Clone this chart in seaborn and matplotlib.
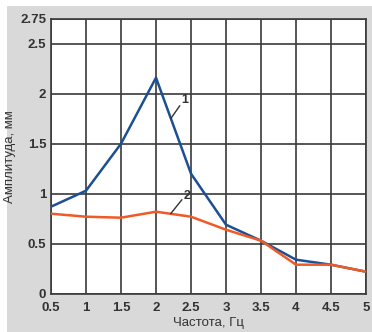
import matplotlib
matplotlib.use("Agg")
import matplotlib.pyplot as plt
import seaborn as sns
import pandas as pd
from matplotlib.patches import Rectangle

freq = [0.5, 1.0, 1.5, 2.0, 2.5, 3.0, 3.5, 4.0, 4.5, 5.0]
curve1 = [0.87, 1.03, 1.50, 2.16, 1.20, 0.69, 0.53, 0.34, 0.29, 0.22]
curve2 = [0.80, 0.77, 0.76, 0.82, 0.77, 0.64, 0.53, 0.29, 0.29, 0.22]
series_names = ["1", "2"]
x_ticks = [0.5, 1, 1.5, 2, 2.5, 3, 3.5, 4, 4.5, 5]
x_tick_labels = ["0.5", "1", "1.5", "2", "2.5", "3", "3.5", "4", "4.5", "5"]
y_ticks = [0, 0.5, 1, 1.5, 2, 2.5, 2.75]
y_tick_labels = ["0", "0.5", "1", "1.5", "2", "2.5", "2.75"]

sns.set_style("white")
plt.rcParams['font.family'] = ['Liberation Sans', 'DejaVu Sans']

df = pd.DataFrame({
    "x": freq * 2,
    "y": curve1 + curve2,
    "s": [series_names[0]] * len(freq) + [series_names[1]] * len(freq),
})

fig = plt.figure(figsize=(3.72, 3.32), dpi=100, facecolor="white")
bg = Rectangle((7 / 372, 0), 1, 1 - 6 / 332, transform=fig.transFigure,
               facecolor="#d9d9d9", edgecolor="none", zorder=-10)
fig.add_artist(bg)
ax = fig.add_axes([51 / 372, 1 - 293.7 / 332, (366 - 51) / 372, (293.7 - 18.7) / 332])
ax.set_zorder(1)
ax.set_facecolor("white")

sns.lineplot(data=df, x="x", y="y", hue="s", palette={"1": "#1c4f93", "2": "#ef5a26"},
             linewidth=1.8, legend=False, ax=ax, zorder=3)

ax.set_xlim(0.5, 5)
ax.set_ylim(0, 2.75)
ax.set_xticks(x_ticks)
ax.set_xticklabels(x_tick_labels)
ax.set_yticks(y_ticks)
ax.set_yticklabels(y_tick_labels)
ax.grid(True, color="#3a3a3a", linewidth=1.2)
ax.tick_params(length=0, labelsize=9.5, colors="#333333")
ax.tick_params(axis="x", pad=6)
ax.tick_params(axis="y", pad=3.5)
for lab in ax.get_xticklabels() + ax.get_yticklabels():
    lab.set_fontweight("bold")
for sp in ax.spines.values():
    sp.set_color("#3a3a3a")
    sp.set_linewidth(1.2)

ax.set_xlabel("Частота, Гц", fontsize=9.5, color="#333333", labelpad=2)
ax.set_ylabel("Амплитуда, мм", fontsize=9.5, color="#333333", labelpad=3)

# curve labels with leader lines
ax.plot([2.21, 2.34], [1.75, 1.88], color="#333333", linewidth=1.0, zorder=4)
ax.text(2.36, 1.88, series_names[0], fontsize=9, fontweight="bold", color="#333333",
        ha="left", va="bottom")
ax.plot([2.21, 2.37], [0.80, 0.94], color="#333333", linewidth=1.0, zorder=4)
ax.text(2.39, 0.92, series_names[1], fontsize=9, fontweight="bold", color="#333333",
        ha="left", va="bottom")

fig.savefig("out.png", dpi=100, facecolor=fig.get_facecolor())
